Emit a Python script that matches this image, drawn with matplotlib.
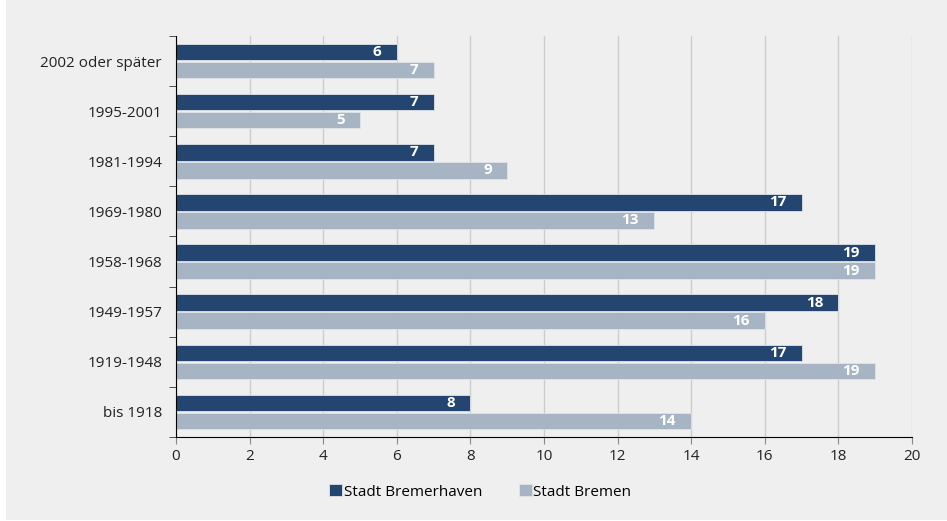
import numpy as np
import matplotlib.pyplot as plt
from matplotlib.patches import Rectangle

categories = ["bis 1918", "1919-1948", "1949-1957", "1958-1968",
              "1969-1980", "1981-1994", "1995-2001", "2002 oder später"]
bremerhaven = [8, 17, 18, 19, 17, 7, 7, 6]
bremen = [14, 19, 16, 19, 13, 9, 5, 7]
series_names = ["Stadt Bremerhaven", "Stadt Bremen"]

dark = "#244570"
light = "#a6b4c4"
bg = "#eeefee"

plt.rcParams['font.family'] = ['Open Sans', 'DejaVu Sans']

fig = plt.figure(figsize=(9.47, 5.21), dpi=100)
fig.patch.set_facecolor("white")
fig.patches.append(Rectangle((6 / 947, 1 / 521), 1, 1, transform=fig.transFigure,
                             facecolor=bg, edgecolor="none", zorder=-10))

ax = fig.add_axes([176 / 947, 84 / 521, 736 / 947, 401 / 521])
ax.set_facecolor(bg)

y = np.arange(len(categories))
h = 0.33
off = 0.18
b1 = ax.barh(y + off, bremerhaven, height=h, color=dark, edgecolor="#dfe3e8", linewidth=0.6, zorder=3)
b2 = ax.barh(y - off, bremen, height=h, color=light, edgecolor="#dfe3e8", linewidth=0.6, zorder=3)

for bars, vals in [(b1, bremerhaven), (b2, bremen)]:
    for bar, v in zip(bars, vals):
        ax.annotate(str(v), (v, bar.get_y() + bar.get_height() / 2),
                    xytext=(-11, 0), textcoords="offset points",
                    ha="right", va="center", color="white",
                    fontsize=11, fontweight="bold", zorder=4)

ax.set_xlim(0, 20)
ax.set_ylim(-0.5, len(categories) - 0.5)
ax.set_xticks(np.arange(0, 21, 2))
ax.set_yticks(y)
ax.set_yticklabels(categories)
ax.set_yticks(np.arange(-0.5, len(categories)), minor=True)
ax.tick_params(axis="y", which="major", length=0, pad=10, labelsize=11, labelcolor="#222222")
ax.tick_params(axis="y", which="minor", length=5, color="#333333")
ax.tick_params(axis="x", length=5, color="#888888", labelsize=11, labelcolor="#222222", pad=4)

ax.grid(axis="x", color="#cccccc", linewidth=1, zorder=0)
for s in ["top", "right"]:
    ax.spines[s].set_visible(False)
ax.spines["left"].set_color("black")
ax.spines["bottom"].set_color("black")
ax.spines["left"].set_zorder(5)
ax.spines["bottom"].set_zorder(5)

fig.legend([b1, b2], series_names, loc="center", bbox_to_anchor=(0.507, 0.056),
           ncol=2, frameon=False, fontsize=11, handlelength=0.85, handleheight=0.85,
           handletextpad=0.1, columnspacing=2.4)

fig.savefig("out.png", dpi=100, facecolor=fig.get_facecolor())
